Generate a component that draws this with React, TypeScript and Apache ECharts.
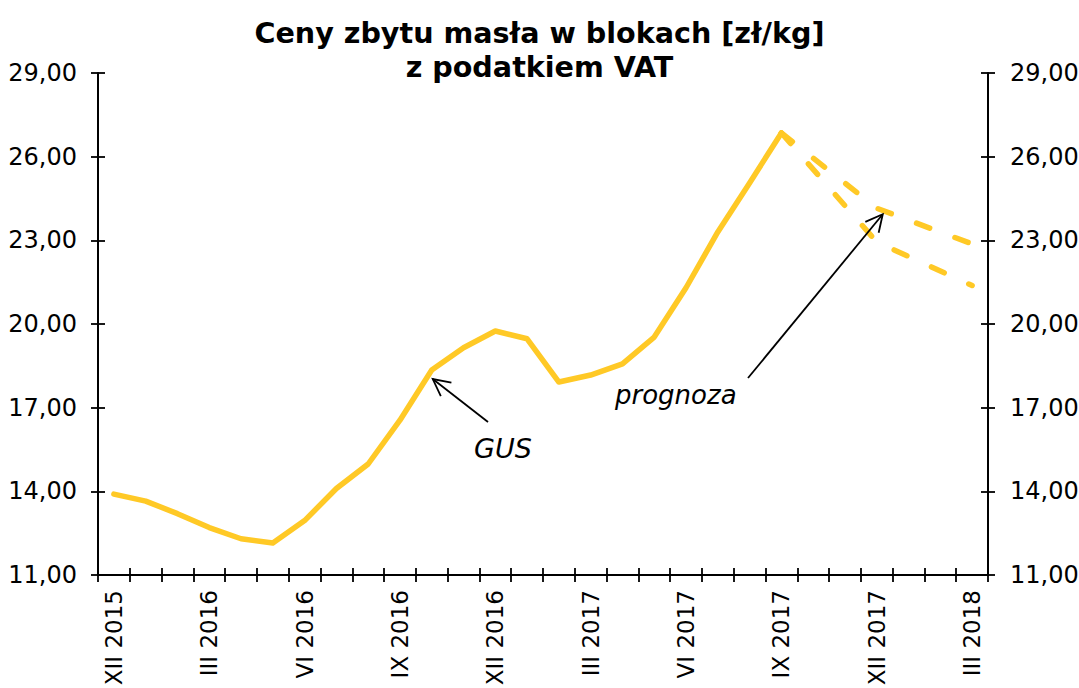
import React, { useEffect, useRef } from "react";
import * as echarts from "echarts";

const categories = [
  "XII 2015", "I 2016", "II 2016", "III 2016", "IV 2016", "V 2016", "VI 2016",
  "VII 2016", "VIII 2016", "IX 2016", "X 2016", "XI 2016", "XII 2016",
  "I 2017", "II 2017", "III 2017", "IV 2017", "V 2017", "VI 2017",
  "VII 2017", "VIII 2017", "IX 2017", "X 2017", "XI 2017", "XII 2017",
  "I 2018", "II 2018", "III 2018",
];

const gusValues: (number | null)[] = [
  13.9, 13.65, 13.2, 12.7, 12.3, 12.15, 12.95, 14.1, 14.98, 16.55, 18.35,
  19.15, 19.75, 19.47, 17.92, 18.17, 18.57, 19.53, 21.3, 23.3, 25.06, 26.85,
  null, null, null, null, null, null,
];

const forecastHigh: (number | null)[] = [
  null, null, null, null, null, null, null, null, null, null, null, null,
  null, null, null, null, null, null, null, null, null, 26.85,
  null, null, 24.15, null, null, 22.87,
];

const forecastLow: (number | null)[] = [
  null, null, null, null, null, null, null, null, null, null, null, null,
  null, null, null, null, null, null, null, null, null, 26.85,
  null, null, 22.94, null, null, 21.38,
];

const yMin = 11;
const yMax = 29;
const yStep = 3;

const LINE_COLOR = "#FFC926";
const FONT = "DejaVu Sans, Verdana, sans-serif";

function arrow(x1: number, y1: number, x2: number, y2: number) {
  const ang = Math.atan2(y2 - y1, x2 - x1);
  const len = 19;
  const spread = (27 * Math.PI) / 180;
  const a1 = ang + Math.PI - spread;
  const a2 = ang + Math.PI + spread;
  const style = { stroke: "#000", lineWidth: 1.8, fill: null };
  return [
    { type: "line", shape: { x1, y1, x2, y2 }, style, z: 100 },
    {
      type: "polyline",
      shape: {
        points: [
          [x2 + len * Math.cos(a1), y2 + len * Math.sin(a1)],
          [x2, y2],
          [x2 + len * Math.cos(a2), y2 + len * Math.sin(a2)],
        ],
      },
      style,
      z: 100,
    },
  ];
}

export default function App() {
  const ref = useRef<HTMLDivElement>(null);

  useEffect(() => {
    document.body.style.margin = "0";
    if (!ref.current) return;
    const chart = echarts.init(ref.current, null, { renderer: "svg" });
    const fmt = (v: number) => v.toFixed(2).replace(".", ",");
    const axisLine = { show: true, lineStyle: { color: "#000", width: 2 } };
    const tickStyle = { color: "#000", width: 1.8 };
    const labelStyle = { color: "#000", fontSize: 24, fontFamily: FONT };

    const yBase = {
      type: "value" as const,
      min: yMin,
      max: yMax,
      interval: yStep,
      splitLine: { show: false },
    };

    const dashed = (data: (number | null)[]) => ({
      type: "line",
      data,
      connectNulls: true,
      symbol: "none",
      xAxisIndex: 0,
      yAxisIndex: 0,
      lineStyle: {
        color: LINE_COLOR,
        width: 5.5,
        type: [14, 27],
        cap: "round",
        join: "round",
      },
      z: 5,
    });

    chart.setOption({
      animation: false,
      backgroundColor: "#fff",
      title: {
        text: "Ceny zbytu masła w blokach [zł/kg]\nz podatkiem VAT",
        left: "center",
        top: 11,
        textStyle: {
          fontFamily: FONT,
          fontSize: 28.6,
          fontWeight: "bold",
          color: "#000",
          lineHeight: 34,
        },
      },
      grid: {
        left: 98,
        right: 91,
        top: 73,
        bottom: 113,
        containLabel: false,
        outerBoundsMode: "none",
      },
      xAxis: [
        {
          type: "category",
          data: categories,
          position: "bottom",
          boundaryGap: true,
          axisLine,
          axisTick: { show: true, inside: false, length: 7, interval: 0, lineStyle: tickStyle },
          axisLabel: { ...labelStyle, fontSize: 23, interval: 2, rotate: 90, margin: 15 },
          splitLine: { show: false },
        },
        {
          type: "category",
          data: categories,
          position: "bottom",
          boundaryGap: true,
          axisLine: { show: false },
          axisTick: { show: true, inside: true, length: 7, interval: 0, lineStyle: tickStyle },
          axisLabel: { show: false },
          splitLine: { show: false },
        },
      ],
      yAxis: [
        {
          ...yBase,
          position: "left",
          axisLine,
          axisTick: { show: true, inside: false, length: 7, lineStyle: tickStyle },
          axisLabel: { ...labelStyle, margin: 21, formatter: fmt },
        },
        {
          ...yBase,
          position: "left",
          axisLine: { show: false },
          axisTick: { show: true, inside: true, length: 7, lineStyle: tickStyle },
          axisLabel: { show: false },
        },
        {
          ...yBase,
          position: "right",
          axisLine,
          axisTick: { show: true, inside: false, length: 7, lineStyle: tickStyle },
          axisLabel: { ...labelStyle, margin: 22, formatter: fmt },
        },
        {
          ...yBase,
          position: "right",
          axisLine: { show: false },
          axisTick: { show: true, inside: true, length: 7, lineStyle: tickStyle },
          axisLabel: { show: false },
        },
      ],
      series: [
        {
          type: "line",
          data: gusValues,
          symbol: "none",
          xAxisIndex: 0,
          yAxisIndex: 0,
          lineStyle: { color: LINE_COLOR, width: 5.5, join: "round", cap: "round" },
          z: 6,
        },
        dashed(forecastHigh),
        dashed(forecastLow),
      ],
    });

    const gusTip = chart.convertToPixel({ xAxisIndex: 0, yAxisIndex: 0 }, [10, 18.35]) as number[];
    const progTip = chart.convertToPixel({ xAxisIndex: 0, yAxisIndex: 0 }, [24, 24.15]) as number[];

    chart.setOption({
      graphic: [
        ...arrow(488, 422, gusTip[0] + 1, gusTip[1] + 9),
        ...arrow(748, 378, progTip[0] + 6, progTip[1] + 6),
        {
          type: "text",
          x: 474,
          y: 448,
          style: {
            text: "GUS",
            font: `italic 27px ${FONT}`,
            fill: "#000",
            verticalAlign: "middle",
            align: "left",
          },
          z: 100,
        },
        {
          type: "text",
          x: 615,
          y: 395,
          style: {
            text: "prognoza",
            font: `italic 26px ${FONT}`,
            fill: "#000",
            verticalAlign: "middle",
            align: "left",
          },
          z: 100,
        },
      ],
    });

    return () => chart.dispose();
  }, []);

  return <div ref={ref} style={{ width: 1079, height: 688 }} />;
}
